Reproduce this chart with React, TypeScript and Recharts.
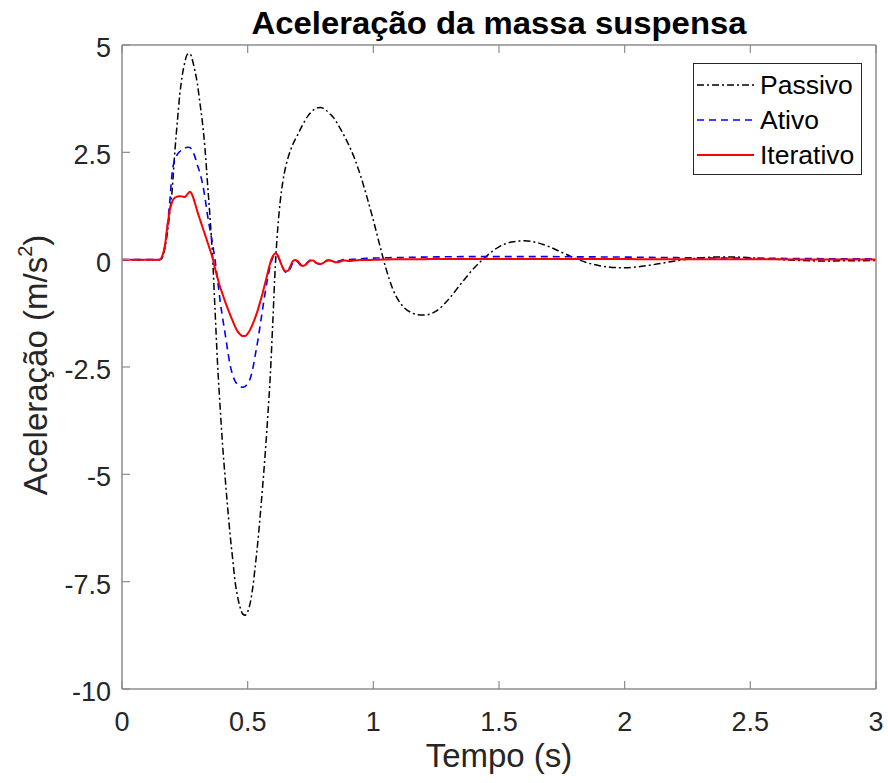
import React from 'react';
import { LineChart, Line, XAxis, YAxis, Legend } from 'recharts';

// Time samples (s)
const timeS = [
  0, 0.1, 0.15,
  0.16, 0.17, 0.18, 0.19, 0.2,
  0.21, 0.22, 0.23, 0.24, 0.25,
  0.26, 0.27, 0.28, 0.29, 0.3,
  0.31, 0.32, 0.33, 0.34, 0.35,
  0.36, 0.37, 0.38, 0.39, 0.4,
  0.41, 0.42, 0.43, 0.44, 0.45,
  0.46, 0.47, 0.48, 0.49, 0.5,
  0.51, 0.52, 0.53, 0.54, 0.55,
  0.56, 0.57, 0.58, 0.59, 0.6,
  0.61, 0.62, 0.63, 0.64, 0.65,
  0.66, 0.67, 0.68, 0.69, 0.7,
  0.71, 0.72, 0.73, 0.74, 0.75,
  0.76, 0.77, 0.78, 0.79, 0.8,
  0.81, 0.82, 0.83, 0.84, 0.85,
  0.86, 0.87, 0.88, 0.89, 0.9,
  0.925, 0.95, 0.975, 1.0, 1.025,
  1.05, 1.075, 1.1, 1.125, 1.15,
  1.175, 1.2, 1.25,
  1.3, 1.35, 1.4, 1.45, 1.5,
  1.55, 1.6, 1.65, 1.7, 1.75,
  1.8, 1.85, 1.9, 1.95, 2.0,
  2.05, 2.1, 2.15, 2.2, 2.25,
  2.3, 2.35, 2.4, 2.45, 2.5,
  2.6, 2.7, 2.8, 2.9, 3.0,
];

// Sprung-mass acceleration (m/s^2), passive suspension
const passivo = [
  0, 0, 0,
  0.05, 0.25, 0.6, 1.1, 1.65,
  2.5, 3.2, 3.85, 4.3, 4.6,
  4.78, 4.8, 4.65, 4.4, 4.1,
  3.65, 3.2, 2.6, 1.8, 1.0,
  0.1, -1.15, -2.4, -3.4, -4.3,
  -5.05, -5.75, -6.4, -6.95, -7.5,
  -7.85, -8.1, -8.25, -8.28, -8.2,
  -8.0, -7.65, -7.15, -6.6, -5.95,
  -5.25, -4.5, -3.65, -2.7, -1.45,
  -0.15, 0.75, 1.38, 1.82, 2.13,
  2.36, 2.54, 2.69, 2.81, 2.92,
  3.04, 3.15, 3.26, 3.35, 3.42,
  3.48, 3.52, 3.54, 3.545, 3.53,
  3.49, 3.44, 3.38, 3.32, 3.24,
  3.14, 3.04, 2.93, 2.82, 2.7,
  2.36, 1.94, 1.45, 0.92, 0.35,
  -0.2, -0.65, -0.95, -1.13, -1.23,
  -1.28, -1.29, -1.2,
  -0.92, -0.55, -0.2, 0.08, 0.3,
  0.41, 0.44, 0.4, 0.3, 0.17,
  0.04, -0.07, -0.14, -0.18, -0.19,
  -0.17, -0.13, -0.08, -0.03, 0.01,
  0.04, 0.06, 0.065, 0.06, 0.045,
  0.01, -0.02, -0.03, -0.025, -0.02,
];

// Active suspension
const ativo = [
  0, 0, 0,
  0.05, 0.3, 0.75, 1.35, 2.05,
  2.33, 2.45, 2.52, 2.57, 2.6,
  2.62, 2.61, 2.53, 2.4, 2.2,
  2.02, 1.78, 1.45, 1.05, 0.7,
  0.38, 0.0, -0.45, -0.94, -1.35,
  -1.71, -2.1, -2.45, -2.68, -2.83,
  -2.91, -2.95, -2.97, -2.95, -2.88,
  -2.77, -2.55, -2.23, -1.9, -1.52,
  -1.13, -0.75, -0.42, -0.14, 0.05,
  0.12, 0.08, -0.05, -0.2, -0.29,
  -0.3, -0.2, -0.07, -0.02, -0.06,
  -0.13, -0.16, -0.12, -0.05, -0.01,
  -0.02, -0.07, -0.1, -0.1, -0.07,
  -0.03, -0.01, -0.02, -0.04, -0.05,
  -0.04, -0.02, 0.0, 0.0, 0.0,
  0.01, 0.02, 0.03, 0.035, 0.04,
  0.045, 0.048, 0.05, 0.052, 0.055,
  0.058, 0.06, 0.065,
  0.068, 0.07, 0.07, 0.07, 0.07,
  0.07, 0.07, 0.07, 0.07, 0.068,
  0.066, 0.065, 0.064, 0.062, 0.06,
  0.057, 0.054, 0.05, 0.047, 0.044,
  0.042, 0.04, 0.038, 0.036, 0.034,
  0.03, 0.026, 0.022, 0.02, 0.018,
];

// Iterative controller
const iterativo = [
  0, 0, 0,
  0.08, 0.3, 0.75, 1.15, 1.36,
  1.44, 1.47, 1.48, 1.47, 1.46,
  1.52, 1.58, 1.5, 1.32, 1.12,
  0.94, 0.76, 0.59, 0.41, 0.23,
  0.05, -0.2, -0.42, -0.63, -0.8,
  -0.97, -1.13, -1.28, -1.42, -1.56,
  -1.67, -1.74, -1.78, -1.78, -1.72,
  -1.63, -1.5, -1.35, -1.18, -0.98,
  -0.77, -0.54, -0.3, -0.07, 0.08,
  0.15, 0.1, -0.05, -0.19, -0.27,
  -0.26, -0.15, -0.03, -0.01, -0.04,
  -0.11, -0.15, -0.12, -0.06, -0.02,
  -0.02, -0.06, -0.09, -0.1, -0.08,
  -0.04, -0.02, -0.02, -0.04, -0.06,
  -0.06, -0.04, -0.02, -0.02, -0.03,
  -0.02, -0.01, -0.01, 0.0, 0.0,
  0.005, 0.008, 0.01, 0.01, 0.01,
  0.012, 0.012, 0.015,
  0.015, 0.015, 0.015, 0.015, 0.015,
  0.015, 0.015, 0.015, 0.015, 0.015,
  0.015, 0.015, 0.015, 0.015, 0.015,
  0.012, 0.012, 0.01, 0.01, 0.01,
  0.01, 0.01, 0.01, 0.01, 0.01,
  0.008, 0.006, 0.005, 0.004, 0.003,
];

const xTicks = [0, 0.5, 1, 1.5, 2, 2.5, 3];
const xTickLabels = ['0', '0.5', '1', '1.5', '2', '2.5', '3'];
const yTicks = [5, 2.5, 0, -2.5, -5, -7.5, -10];
const yTickLabels = ['5', '2.5', '0', '-2.5', '-5', '-7.5', '-10'];

const seriesNames = ['Passivo', 'Ativo', 'Iterativo'];
const seriesKeys = ['passivo', 'ativo', 'iterativo'];
const seriesColors = ['#000000', '#0000ff', '#ff0000'];
const seriesDash = ['7 3 2 3', '7 5', undefined];
const seriesWidth = [1.5, 1.6, 2];

const titleText = 'Aceleração da massa suspensa';
const xLabelText = 'Tempo (s)';

const data = timeS.map((t, i) => ({
  t,
  passivo: passivo[i],
  ativo: ativo[i],
  iterativo: iterativo[i],
}));

const FONT = '"Liberation Sans", Arial, Helvetica, sans-serif';
const AXIS_COLOR = '#8c8c8c';
const TEXT_COLOR = '#262626';
const TICK_LEN = 8;

const BottomTick = (props: any) => {
  const { x, y, payload } = props;
  const i = xTicks.indexOf(payload.value);
  return (
    <g>
      <line x1={x} x2={x} y1={y} y2={y - TICK_LEN} stroke={AXIS_COLOR} strokeWidth={1.2} />
      <text x={x} y={y + 42} textAnchor="middle" fontSize={27} fontFamily={FONT} fill={TEXT_COLOR}>
        {xTickLabels[i]}
      </text>
    </g>
  );
};

const TopTick = (props: any) => {
  const { x, y } = props;
  return <line x1={x} x2={x} y1={y} y2={y + TICK_LEN} stroke={AXIS_COLOR} strokeWidth={1.2} />;
};

const LeftTick = (props: any) => {
  const { x, y, payload } = props;
  const i = yTicks.indexOf(payload.value);
  return (
    <g>
      <line x1={x} x2={x + TICK_LEN} y1={y} y2={y} stroke={AXIS_COLOR} strokeWidth={1.2} />
      <text x={x - 11} y={y + 12} textAnchor="end" fontSize={27} fontFamily={FONT} fill={TEXT_COLOR}>
        {yTickLabels[i]}
      </text>
    </g>
  );
};

const RightTick = (props: any) => {
  const { x, y } = props;
  return <line x1={x} x2={x - TICK_LEN} y1={y} y2={y} stroke={AXIS_COLOR} strokeWidth={1.2} />;
};

const TitleLabel = (props: any) => {
  const vb = props.viewBox || {};
  const cx = vb.x + vb.width / 2;
  return (
    <text
      x={cx}
      y={vb.y - 10}
      textAnchor="middle"
      fontSize={31}
      fontWeight="bold"
      fontFamily={FONT}
      fill="#000"
      textLength={495}
      lengthAdjust="spacingAndGlyphs"
    >
      {titleText}
    </text>
  );
};

const XTitle = (props: any) => {
  const vb = props.viewBox || {};
  const cx = vb.x + vb.width / 2;
  return (
    <text x={cx} y={vb.y + 78} textAnchor="middle" fontSize={33} fontFamily={FONT} fill={TEXT_COLOR}>
      {xLabelText}
    </text>
  );
};

const YTitle = (props: any) => {
  const vb = props.viewBox || {};
  const bx = vb.x + 47;
  const cy = vb.y + vb.height / 2 - 2;
  return (
    <text
      x={bx}
      y={cy}
      transform={`rotate(-90, ${bx}, ${cy})`}
      textAnchor="middle"
      fontSize={33}
      fontFamily={FONT}
      fill={TEXT_COLOR}
    >
      Aceleração (m/s
      <tspan dy={-15} fontSize={20}>2</tspan>
      <tspan dy={15}>)</tspan>
    </text>
  );
};

const LegendBox = () => (
  <svg width={170} height={113} style={{ display: 'block' }}>
    <rect x={0.5} y={0.5} width={168} height={111} fill="#fff" stroke="#262626" strokeWidth={1} />
    {seriesNames.map((name, i) => {
      const cy = 22 + i * 35;
      return (
        <g key={name}>
          <line
            x1={4}
            x2={61}
            y1={cy}
            y2={cy}
            stroke={seriesColors[i]}
            strokeWidth={seriesWidth[i]}
            strokeDasharray={seriesDash[i]}
          />
          <text x={67} y={cy + 9} fontSize={26.5} fontFamily={FONT} fill="#000">
            {name}
          </text>
        </g>
      );
    })}
  </svg>
);

export default function App() {
  return (
    <div style={{ position: 'absolute', left: 0, top: 0, width: 888, height: 783, background: '#fff' }}>
      <LineChart
        width={888}
        height={783}
        data={data}
        margin={{ top: 44, right: 11, left: 0, bottom: 0 }}
      >
        <XAxis
          xAxisId="bottom"
          dataKey="t"
          type="number"
          domain={[0, 3]}
          ticks={xTicks}
          interval={0}
          height={94}
          tickSize={0}
          tickMargin={0}
          tickLine={false}
          axisLine={{ stroke: AXIS_COLOR, strokeWidth: 1.5 }}
          tick={<BottomTick />}
          label={<XTitle />}
        />
        <XAxis
          xAxisId="top"
          orientation="top"
          dataKey="t"
          type="number"
          domain={[0, 3]}
          ticks={xTicks}
          interval={0}
          height={1}
          tickSize={0}
          tickMargin={0}
          tickLine={false}
          axisLine={{ stroke: AXIS_COLOR, strokeWidth: 1.5 }}
          tick={<TopTick />}
          label={<TitleLabel />}
        />
        <YAxis
          yAxisId="left"
          type="number"
          domain={[-10, 5]}
          ticks={yTicks}
          interval={0}
          width={122}
          tickSize={0}
          tickMargin={0}
          tickLine={false}
          axisLine={{ stroke: AXIS_COLOR, strokeWidth: 1.5 }}
          tick={<LeftTick />}
          label={<YTitle />}
        />
        <YAxis
          yAxisId="right"
          orientation="right"
          type="number"
          domain={[-10, 5]}
          ticks={yTicks}
          interval={0}
          width={1}
          tickSize={0}
          tickMargin={0}
          tickLine={false}
          axisLine={{ stroke: AXIS_COLOR, strokeWidth: 1.5 }}
          tick={<RightTick />}
        />
        {seriesKeys.map((key, i) => (
          <Line
            key={key}
            xAxisId="bottom"
            yAxisId="left"
            dataKey={key}
            name={seriesNames[i]}
            type="monotone"
            stroke={seriesColors[i]}
            strokeWidth={seriesWidth[i]}
            strokeDasharray={seriesDash[i]}
            dot={false}
            activeDot={false}
            isAnimationActive={false}
          />
        ))}
        <Legend
          layout="vertical"
          align="center"
          verticalAlign="middle"
          content={<LegendBox />}
          wrapperStyle={{ left: 693, top: 63, width: 170, height: 113 }}
        />
      </LineChart>
    </div>
  );
}
